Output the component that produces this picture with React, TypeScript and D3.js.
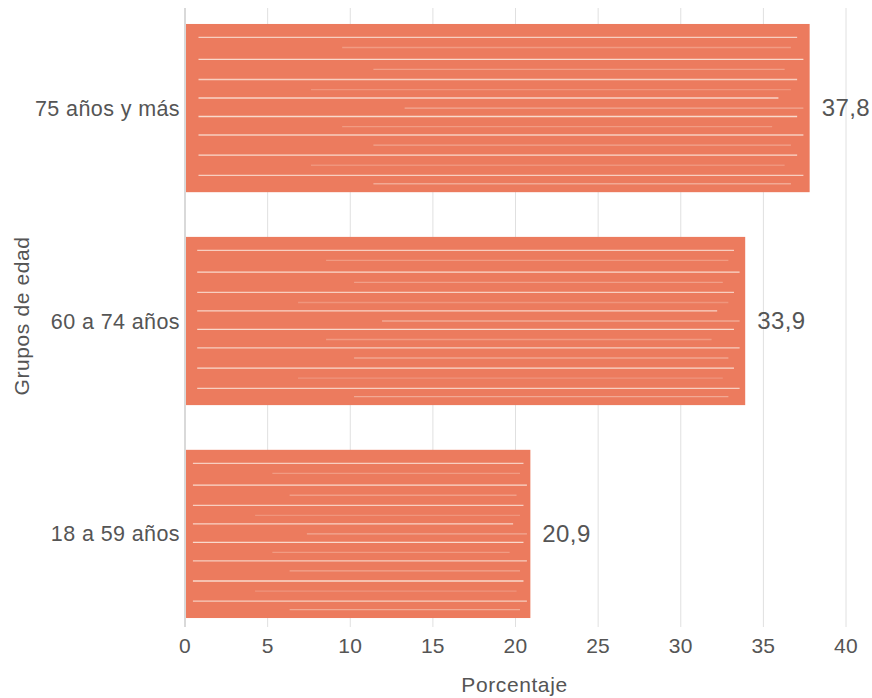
import React from "react";
import * as d3 from "d3";

const categories = ["75 años y más", "60 a 74 años", "18 a 59 años"];
const values = [37.8, 33.9, 20.9];
const xTicks = [0, 5, 10, 15, 20, 25, 30, 35, 40];
const valueLabels = ["37,8", "33,9", "20,9"];

// decorative sketch texture (fractions of bar height / width)
const strokeRows = [0.08, 0.14, 0.21, 0.27, 0.33, 0.39, 0.44, 0.5, 0.55, 0.61, 0.66, 0.72, 0.78, 0.84, 0.9, 0.95];
const strokeOpac = [0.8, 0.3, 0.9, 0.35, 0.8, 0.25, 0.85, 0.45, 0.9, 0.3, 0.8, 0.4, 0.9, 0.25, 0.8, 0.45];
const strokeStart = [0.02, 0.25, 0.02, 0.3, 0.02, 0.2, 0.02, 0.35, 0.02, 0.25, 0.02, 0.3, 0.02, 0.2, 0.02, 0.3];
const strokeEnd = [0.98, 0.97, 0.99, 0.96, 0.98, 0.97, 0.95, 0.99, 0.98, 0.94, 0.99, 0.97, 0.98, 0.96, 0.99, 0.97];

const W = 872;
const H = 698;
const FONT = "'Liberation Sans', Arial, Helvetica, sans-serif";
const TXT = "#555";

export default function App() {
  const x = d3.scaleLinear().domain([0, 40]).range([185, 846]);
  const y = d3
    .scaleBand<string>()
    .domain(categories)
    .range([8, 634])
    .paddingInner(0.21)
    .paddingOuter(0.075);

  return (
    <svg
      width={W}
      height={H}
      style={{ position: "absolute", left: 0, top: 0, fontFamily: FONT }}
    >
      {xTicks.map((t) => (
        <g key={t}>
          <line
            x1={x(t)}
            x2={x(t)}
            y1={8}
            y2={627}
            stroke={t === 0 ? "#d9d9d9" : "#e0e0e0"}
            strokeWidth={t === 0 ? 2 : 1}
          />
          <text
            x={x(t)}
            y={653}
            textAnchor="middle"
            fontSize={21}
            fill={TXT}
            letterSpacing={0.3}
          >
            {t}
          </text>
        </g>
      ))}
      {categories.map((c, i) => {
        const y0 = y(c)!;
        const bh = y.bandwidth();
        const x0 = x(0);
        const bw = x(values[i]) - x0;
        return (
          <g key={c}>
            <rect x={x0 + 1} y={y0} width={bw - 1} height={bh} fill="#EC7B5E" />
            {strokeRows.map((r, k) => (
              <line
                key={k}
                x1={x0 + 1 + bw * strokeStart[k]}
                x2={x0 + bw * strokeEnd[k]}
                y1={y0 + bh * r}
                y2={y0 + bh * r}
                stroke="#FBE3D8"
                strokeOpacity={strokeOpac[k]}
                strokeWidth={1.3}
              />
            ))}
            <text
              x={180}
              y={y0 + bh / 2}
              dy="0.35em"
              textAnchor="end"
              fontSize={21.5}
              fill={TXT}
              letterSpacing={0.4}
            >
              {c}
            </text>
            <text
              x={x(values[i]) + 12}
              y={y0 + bh / 2}
              dy="0.35em"
              fontSize={24}
              fill={TXT}
              letterSpacing={0.4}
            >
              {valueLabels[i]}
            </text>
          </g>
        );
      })}
      <text
        x={(x(0) + x(40)) / 2 - 1}
        y={692}
        textAnchor="middle"
        fontSize={21}
        fill={TXT}
        letterSpacing={0.6}
      >
        Porcentaje
      </text>
      <text
        transform={`translate(29, 316) rotate(-90)`}
        textAnchor="middle"
        fontSize={21}
        fill={TXT}
        letterSpacing={0.6}
      >
        Grupos de edad
      </text>
    </svg>
  );
}
